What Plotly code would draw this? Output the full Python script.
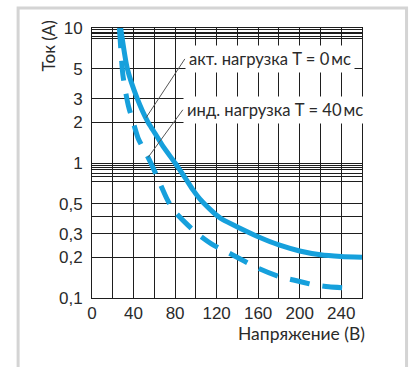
import numpy as np
import plotly.graph_objects as go

# Switching capacity curves: current (A) versus voltage (V)
# Resistive load, T = 0 ms
voltage_resistive = [27.6, 34, 43.6, 54, 59, 68.6, 80, 91, 97.4, 104, 113.5, 120, 126,
                     142, 160, 180, 200, 220, 240, 260]
current_resistive = [10, 5.0, 3.0, 2.0, 1.74, 1.32, 1.0, 0.75, 0.63, 0.54, 0.455, 0.41, 0.38,
                     0.33, 0.284, 0.247, 0.223, 0.209, 0.203, 0.2]

# Inductive load, T = 40 ms
voltage_inductive = [26.4, 28.4, 29.8, 32.7, 35.1, 39.7, 44.5, 54, 60.6, 71.8, 78.2, 92.6,
                     102, 117, 129.5, 147, 160, 180, 194, 214, 228, 250]
current_inductive = [10, 5.9, 4.45, 3.25, 2.64, 2.0, 1.52, 1.10, 0.86, 0.55, 0.45, 0.345,
                     0.297, 0.246, 0.22, 0.187, 0.166, 0.144, 0.136, 0.125, 0.121, 0.118]

y_tick_values = [0.1, 0.2, 0.3, 0.5, 1, 2, 3, 5, 10]
y_tick_labels = ["0,1", "0,2", "0,3", "0,5", "1", "2", "3", "5", "10"]
y_extra_grid = [0.4, 0.73, 0.8, 0.84, 0.89, 0.93, 0.96, 8.3, 8.66, 9.03, 9.34, 9.7]

label_resistive = "акт. нагрузка T = 0\u2009мс"
label_inductive = "инд. нагрузка T = 40\u2009мс"
x_title = "Напряжение (В)"
y_title = "Ток (А)"

BLUE = "#16a0dc"
GRID = "#1e1e1e"
TEXT = "#2a2a2a"
TEXT_FONT = "Lato"
NUM_FONT = "Liberation Sans"

fig = go.Figure()
fig.add_trace(go.Scatter(
    x=voltage_resistive, y=current_resistive, mode="lines",
    line=dict(color=BLUE, width=5, shape="spline", smoothing=0.6),
    hoverinfo="skip", showlegend=False, cliponaxis=True,
))
fig.add_trace(go.Scatter(
    x=voltage_inductive, y=current_inductive, mode="lines",
    line=dict(color=BLUE, width=5, shape="spline", smoothing=0.6, dash="20px,13px"),
    hoverinfo="skip", showlegend=False, cliponaxis=True,
))

# Leader lines from the labels to the curves
def on_curve(xs, ys, x):
    return float(np.interp(x, xs, np.log10(ys)))

for text, xs, ys, x_at, tail_x, tail_y in [
    (label_resistive, voltage_resistive, current_resistive, 52, 89.4, 5.9),
    (label_inductive, voltage_inductive, current_inductive, 54, 87.5, 2.48),
]:
    fig.add_annotation(
        x=x_at, y=on_curve(xs, ys, x_at), xref="x", yref="y",
        ax=tail_x, ay=np.log10(tail_y), axref="x", ayref="y",
        text=text, showarrow=True, arrowhead=0, arrowwidth=1, arrowcolor="#555555",
        xanchor="left", yanchor="middle", bgcolor="white", borderpad=3,
        font=dict(family=TEXT_FONT, size=16.6, color=TEXT),
    )

fig.add_annotation(
    x=-0.1616, y=0.933, xref="paper", yref="paper", text=y_title, textangle=-90,
    showarrow=False, xanchor="center", yanchor="middle",
    font=dict(family=TEXT_FONT, size=17, color=TEXT),
)
fig.add_annotation(
    x=1.017, y=-0.133, xref="paper", yref="paper", text=x_title,
    showarrow=False, xanchor="right", yanchor="middle",
    font=dict(family=TEXT_FONT, size=17.5, color=TEXT),
)

# Outer light frame
fig.add_shape(
    type="rect", xref="paper", yref="paper",
    x0=-0.2737, x1=1.165, y0=-0.3, y1=1.074,
    line=dict(color="#d4d4d4", width=3), fillcolor="rgba(0,0,0,0)", layer="below",
)

fig.update_xaxes(
    range=[0, 260], tickmode="linear", tick0=0, dtick=40,
    showgrid=True, gridcolor=GRID, gridwidth=1,
    minor=dict(tick0=0, dtick=20, showgrid=True, gridcolor=GRID, gridwidth=1),
    showline=True, linecolor=GRID, linewidth=1, mirror=True,
    ticks="", ticklabelstandoff=0, zeroline=False,
    tickfont=dict(family=NUM_FONT, size=17, color=TEXT),
)
fig.update_yaxes(
    type="log", range=[-1, 1], tickmode="array",
    tickvals=y_tick_values, ticktext=y_tick_labels,
    showgrid=True, gridcolor=GRID, gridwidth=1,
    minor=dict(tickmode="array", tickvals=y_extra_grid, showgrid=True, gridcolor=GRID, gridwidth=1),
    showline=True, linecolor=GRID, linewidth=1, mirror=True,
    ticks="", ticklabelstandoff=5, zeroline=False,
    tickfont=dict(family=NUM_FONT, size=17, color=TEXT),
)

fig.update_layout(
    width=409, height=367,
    margin=dict(l=92, r=47, t=28, b=69),
    paper_bgcolor="white", plot_bgcolor="white",
    showlegend=False,
)

fig.write_html("out.html")
